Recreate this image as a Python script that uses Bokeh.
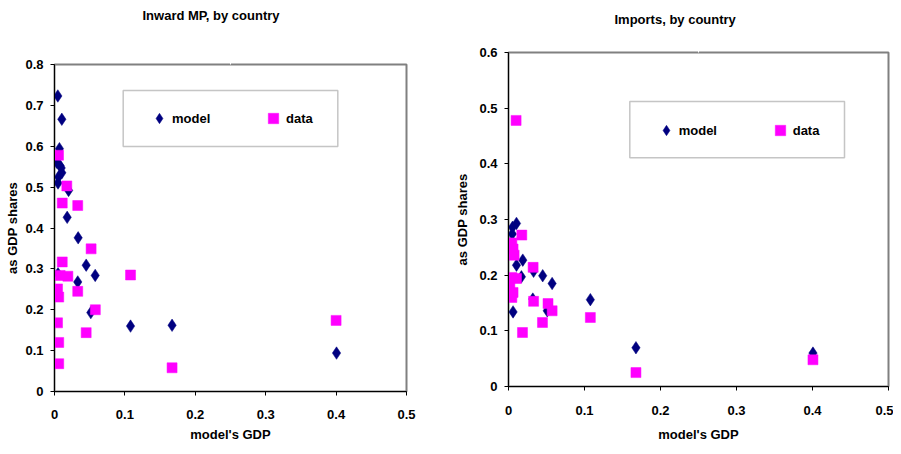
from bokeh.plotting import figure
from bokeh.layouts import row, column
from bokeh.models import (Range1d, FixedTicker, Legend, LegendItem, BoxAnnotation,
                          LinearAxis)
from bokeh.embed import file_html
from bokeh.resources import INLINE

FONT = "Liberation Sans"

# ---------------- data ----------------
x_ticks = [0, 0.1, 0.2, 0.3, 0.4, 0.5]
x_tick_labels = ["0", "0.1", "0.2", "0.3", "0.4", "0.5"]

mp_y_ticks = [0, 0.1, 0.2, 0.3, 0.4, 0.5, 0.6, 0.7, 0.8]
mp_y_tick_labels = ["0", "0.1", "0.2", "0.3", "0.4", "0.5", "0.6", "0.7", "0.8"]

imp_y_ticks = [0, 0.1, 0.2, 0.3, 0.4, 0.5, 0.6]
imp_y_tick_labels = ["0", "0.1", "0.2", "0.3", "0.4", "0.5", "0.6"]

# Inward MP, by country
mp_model_x = [0.0047, 0.0104, 0.007, 0.003, 0.008, 0.0095, 0.0104, 0.0057, 0.005, 0.020,
              0.018, 0.0336, 0.045, 0.0578, 0.005, 0.033, 0.0516, 0.108, 0.167, 0.4006]
mp_model_y = [0.723, 0.666, 0.594, 0.561, 0.552, 0.547, 0.535, 0.525, 0.510, 0.492,
              0.426, 0.376, 0.309, 0.284, 0.288, 0.268, 0.193, 0.160, 0.162, 0.094]
mp_data_x = [0.0057, 0.0175, 0.011, 0.033, 0.052, 0.011, 0.108, 0.008, 0.019, 0.0043,
             0.006, 0.033, 0.058, 0.400, 0.0043, 0.045, 0.006, 0.006, 0.167]
mp_data_y = [0.578, 0.503, 0.461, 0.455, 0.349, 0.317, 0.285, 0.284, 0.282, 0.251,
             0.231, 0.245, 0.200, 0.174, 0.168, 0.144, 0.120, 0.068, 0.058]

# Imports, by country
imp_model_x = [0.0105, 0.0053, 0.005, 0.001, 0.0188, 0.0105, 0.017, 0.033, 0.045, 0.0574,
               0.032, 0.051, 0.006, 0.1077, 0.1677, 0.4006]
imp_model_y = [0.293, 0.286, 0.274, 0.256, 0.227, 0.218, 0.197, 0.207, 0.199, 0.185,
               0.157, 0.136, 0.134, 0.156, 0.0696, 0.060]
imp_data_x = [0.010, 0.0175, 0.0044, 0.006, 0.0074, 0.0324, 0.0044, 0.0105, 0.0018, 0.006,
              0.0044, 0.033, 0.052, 0.0574, 0.1077, 0.0447, 0.0184, 0.1677, 0.4006]
imp_data_y = [0.478, 0.272, 0.258, 0.247, 0.236, 0.214, 0.196, 0.194, 0.179, 0.169,
              0.160, 0.153, 0.149, 0.136, 0.124, 0.115, 0.097, 0.025, 0.048]


def panel(title, mx, my, dx, dy, y_ticks, y_labels, width, height, mb,
          title_offset, title_gap, xstand, ystand, box, legend_loc):
    p = figure(width=width, height=height, output_backend="svg", toolbar_location=None,
               x_range=Range1d(0, 0.5), y_range=Range1d(0, y_ticks[-1]),
               min_border_left=mb[0], min_border_right=mb[1],
               min_border_top=mb[2], min_border_bottom=mb[3])
    p.xgrid.visible = False
    p.ygrid.visible = False
    p.outline_line_color = "#808080"
    p.outline_line_width = 2
    p.background_fill_color = "white"
    p.border_fill_color = "white"

    xax = p.below[0]
    yax = p.left[0]

    # invisible spacer between title and plot area (one white tick, empty label)
    p.add_layout(LinearAxis(ticker=FixedTicker(ticks=[0.25]),
                            major_label_overrides={0.25: ""},
                            axis_line_color=None,
                            major_tick_line_color="white", minor_tick_line_color=None,
                            major_tick_out=title_gap, major_tick_in=0, minor_tick_out=0,
                            minor_tick_in=0, major_label_standoff=0,
                            major_label_text_font_size="1px",
                            major_label_text_alpha=0), "above")

    p.title.text = title
    p.title.align = "left"
    p.title.offset = title_offset
    p.title.standoff = 2
    p.title.text_font = FONT
    p.title.text_font_size = "13px"
    p.title.text_font_style = "bold"
    p.title.text_color = "black"

    xax.ticker = FixedTicker(ticks=x_ticks)
    xax.major_label_overrides = dict(zip(x_ticks, x_tick_labels))
    yax.ticker = FixedTicker(ticks=y_ticks)
    yax.major_label_overrides = dict(zip(y_ticks, y_labels))
    xax.axis_label = "model's GDP"
    yax.axis_label = "as GDP shares"
    for ax in (xax, yax):
        ax.axis_line_color = "black"
        ax.axis_line_width = 1
        ax.major_tick_out = 4
        ax.major_tick_in = 0
        ax.major_tick_line_color = "black"
        ax.minor_tick_line_color = None
        ax.major_label_text_font = FONT
        ax.major_label_text_font_size = "13px"
        ax.major_label_text_font_style = "bold"
        ax.major_label_text_color = "black"
        ax.axis_label_text_font = FONT
        ax.axis_label_text_font_size = "13px"
        ax.axis_label_text_font_style = "bold"
        ax.axis_label_text_color = "black"
    xax.major_label_standoff = xstand[0]
    xax.axis_label_standoff = xstand[1]
    yax.major_label_standoff = ystand[0]
    yax.axis_label_standoff = ystand[1]

    r1 = p.scatter(mx, my, marker="diamond", size=12.5, fill_color="#000080",
                   line_color="#000080", line_width=0.5)
    r2 = p.scatter(dx, dy, marker="square", size=10, fill_color="#FF00FF",
                   line_color="#FF00FF", line_width=0.5)

    p.add_layout(BoxAnnotation(left=box[0], right=box[1], bottom=box[2], top=box[3],
                               left_units="screen", right_units="screen",
                               bottom_units="screen", top_units="screen",
                               fill_color="white", fill_alpha=1,
                               line_color="#404040", line_width=1.5))
    legend = Legend(items=[LegendItem(label="model", renderers=[r1]),
                           LegendItem(label="data", renderers=[r2])],
                    location=legend_loc, orientation="horizontal", padding=0, margin=0,
                    spacing=28, glyph_width=26, glyph_height=28, label_height=28,
                    label_width=60, label_standoff=0,
                    border_line_color=None, background_fill_alpha=0,
                    label_text_font=FONT, label_text_font_size="13px",
                    label_text_font_style="bold", label_text_color="black")
    p.add_layout(legend, "center")
    return p


H = 446
# frame 1: left 54, top 64, right 406, bottom 391
p1 = panel("Inward MP, by country", mp_model_x, mp_model_y, mp_data_x, mp_data_y,
           mp_y_ticks, mp_y_tick_labels, 450, H, (54, 44, 64, H - 391),
           88, 41, (14, 5), (7, 2),
           (68.7, 283.3, 245, 301), (92, 258.7))
# frame 2: left 508, top 52, right ~888, bottom 386
p2 = panel("Imports, by country", imp_model_x, imp_model_y, imp_data_x, imp_data_y,
           imp_y_ticks, imp_y_tick_labels, 443, H, (58, 5, 52, H - 386),
           106, 25, (15, 9), (7, 6),
           (121.3, 336, 228.7, 285), (144.7, 242))

layout = row(column(p1), column(p2), margin=(0, 0, -8, 0))
open("out.html", "w").write(file_html(layout, INLINE))
